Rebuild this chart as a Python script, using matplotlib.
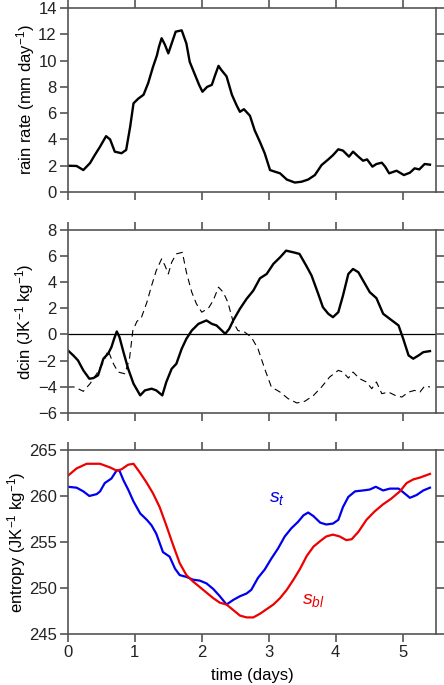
import numpy as np
import matplotlib
matplotlib.use('Agg')
import matplotlib.pyplot as plt

plt.rcParams['font.family'] = ['Liberation Sans', 'DejaVu Sans']
plt.rcParams['mathtext.fontset'] = 'custom'
plt.rcParams['mathtext.rm'] = 'Liberation Sans'
plt.rcParams['mathtext.it'] = 'Liberation Sans:italic'
plt.rcParams['font.size'] = 12

# rain rate (mm/day)
rain_t = [0.00, 0.13, 0.23, 0.33, 0.40, 0.48, 0.57, 0.63, 0.70, 0.80, 0.87, 0.93,
          0.98, 1.05, 1.13, 1.20, 1.27, 1.33, 1.36, 1.40, 1.45, 1.50, 1.55, 1.61,
          1.70, 1.77, 1.82, 1.90, 1.96, 2.01, 2.08, 2.15, 2.20, 2.25, 2.29, 2.37,
          2.45, 2.52, 2.57, 2.63, 2.72, 2.79, 2.87, 2.94, 3.02, 3.09, 3.17, 3.27,
          3.39, 3.49, 3.59, 3.69, 3.79, 3.89, 3.96, 4.04, 4.11, 4.20, 4.26, 4.34,
          4.41, 4.47, 4.55, 4.61, 4.69, 4.74, 4.80, 4.91, 5.02, 5.11, 5.18, 5.25,
          5.33, 5.41]
rain = [2.00, 1.98, 1.67, 2.20, 2.80, 3.45, 4.25, 4.00, 3.07, 2.95, 3.20, 4.97,
        6.75, 7.10, 7.40, 8.30, 9.50, 10.4, 11.05, 11.7, 11.2, 10.55, 11.3, 12.2,
        12.3, 11.3, 9.90, 8.90, 8.15, 7.63, 8.00, 8.15, 8.90, 9.60, 9.30, 8.80,
        7.40, 6.60, 6.10, 6.30, 5.80, 4.70, 3.80, 2.95, 1.67, 1.55, 1.42, 0.95,
        0.72, 0.78, 0.95, 1.29, 2.05, 2.48, 2.80, 3.25, 3.15, 2.69, 3.07, 2.69,
        2.38, 2.48, 1.93, 2.13, 2.23, 1.93, 1.42, 1.62, 1.29, 1.47, 1.80, 1.72,
        2.13, 2.08]

# dcin, solid curve
dcin_t = [0.00, 0.08, 0.15, 0.23, 0.32, 0.38, 0.45, 0.53, 0.60, 0.65, 0.69, 0.73,
          0.77, 0.83, 0.90, 0.98, 1.08, 1.15, 1.25, 1.32, 1.41, 1.47, 1.55, 1.62,
          1.70, 1.77, 1.85, 1.95, 2.07, 2.15, 2.22, 2.30, 2.35, 2.41, 2.47, 2.57,
          2.67, 2.77, 2.87, 2.97, 3.07, 3.17, 3.26, 3.37, 3.46, 3.56, 3.64, 3.74,
          3.81, 3.89, 3.96, 4.04, 4.11, 4.19, 4.26, 4.34, 4.41, 4.51, 4.61, 4.71,
          4.81, 4.94, 5.01, 5.09, 5.16, 5.24, 5.31, 5.41]
dcin = [-1.22, -1.60, -1.98, -2.74, -3.38, -3.33, -3.12, -1.85, -1.47, -0.97, -0.33, 0.23,
        -0.20, -1.35, -2.62, -3.76, -4.65, -4.27, -4.14, -4.27, -4.65, -3.63, -2.62, -2.24,
        -1.09, -0.33, 0.30, 0.81, 1.07, 0.81, 0.69, 0.30, 0.05, 0.43, 1.07, 1.96,
        2.72, 3.35, 4.29, 4.62, 5.39, 5.89, 6.40, 6.27, 6.15, 5.26, 4.50, 3.10,
        2.08, 1.58, 1.32, 1.70, 2.97, 4.62, 5.00, 4.75, 4.12, 3.23, 2.77, 1.58,
        1.19, 0.69, -0.33, -1.60, -1.85, -1.60, -1.35, -1.27]

# dcin, dashed curve
dash_t = [0.00, 0.10, 0.23, 0.33, 0.43, 0.53, 0.60, 0.68, 0.75, 0.85, 0.92, 0.97,
          1.03, 1.10, 1.18, 1.25, 1.32, 1.40, 1.45, 1.50, 1.55, 1.62, 1.71, 1.77,
          1.85, 1.92, 2.00, 2.10, 2.17, 2.25, 2.32, 2.39, 2.47, 2.54, 2.64, 2.74,
          2.84, 2.94, 3.04, 3.17, 3.29, 3.42, 3.54, 3.67, 3.79, 3.91, 4.04, 4.11,
          4.19, 4.26, 4.36, 4.46, 4.54, 4.61, 4.69, 4.79, 4.89, 4.99, 5.09, 5.18,
          5.26, 5.33, 5.41]
dash = [-4.01, -4.01, -4.34, -3.76, -3.00, -2.11, -1.22, -2.24, -2.87, -3.00, -1.85, 0.30,
        0.99, 1.32, 2.46, 3.73, 4.88, 5.77, 5.26, 4.62, 5.51, 6.15, 6.27, 4.75,
        3.23, 2.34, 1.70, 2.01, 2.59, 3.61, 3.23, 2.46, 0.94, 0.30, 0.18, -0.20,
        -1.09, -2.62, -4.01, -4.40, -4.90, -5.23, -5.10, -4.65, -4.01, -3.25, -2.74, -2.87,
        -3.33, -2.87, -3.38, -3.63, -4.14, -3.63, -4.52, -4.40, -4.65, -4.78, -4.40, -4.27,
        -4.40, -3.94, -4.01]

# entropy, s_t (blue)
st_t = [0.00, 0.13, 0.23, 0.32, 0.43, 0.48, 0.55, 0.65, 0.73, 0.77, 0.83, 0.90,
        0.98, 1.08, 1.18, 1.25, 1.32, 1.42, 1.52, 1.60, 1.67, 1.77, 1.87, 1.97,
        2.07, 2.17, 2.27, 2.37, 2.47, 2.57, 2.67, 2.74, 2.84, 2.94, 3.04, 3.14,
        3.24, 3.34, 3.44, 3.52, 3.59, 3.67, 3.77, 3.86, 3.96, 4.04, 4.11, 4.19,
        4.29, 4.41, 4.51, 4.60, 4.71, 4.81, 4.94, 5.01, 5.11, 5.21, 5.31, 5.41]
st = [261.0, 260.9, 260.5, 260.0, 260.2, 260.5, 261.4, 261.9, 262.8, 262.75, 261.7, 260.7,
      259.4, 258.1, 257.4, 256.8, 255.9, 253.9, 253.4, 252.1, 251.4, 251.2, 250.9, 250.8,
      250.5, 249.9, 249.1, 248.2, 248.7, 249.1, 249.4, 249.8, 251.1, 252.0, 253.2, 254.3,
      255.6, 256.5, 257.2, 257.9, 258.2, 257.8, 257.1, 256.9, 257.0, 257.4, 258.8, 259.9,
      260.5, 260.6, 260.7, 261.0, 260.6, 260.8, 260.8, 260.4, 259.8, 260.1, 260.6, 260.9]

# entropy, s_bl (red)
sbl_t = [0.00, 0.13, 0.28, 0.48, 0.63, 0.73, 0.80, 0.90, 0.98, 1.08, 1.18, 1.27,
         1.37, 1.47, 1.57, 1.67, 1.77, 1.87, 1.97, 2.07, 2.17, 2.27, 2.37, 2.47,
         2.57, 2.67, 2.77, 2.87, 2.97, 3.07, 3.17, 3.27, 3.37, 3.47, 3.57, 3.67,
         3.77, 3.86, 3.96, 4.06, 4.16, 4.24, 4.34, 4.46, 4.58, 4.71, 4.83, 4.96,
         5.06, 5.16, 5.26, 5.41]
sbl = [262.2, 263.0, 263.5, 263.5, 263.1, 262.75, 262.9, 263.4, 263.5, 262.5, 261.4, 260.3,
       258.8, 256.8, 254.7, 252.7, 251.4, 250.7, 250.1, 249.5, 248.9, 248.4, 248.2, 247.6,
       247.0, 246.8, 246.8, 247.2, 247.7, 248.2, 248.9, 249.8, 250.9, 252.1, 253.5, 254.5,
       255.1, 255.6, 255.8, 255.6, 255.2, 255.3, 256.1, 257.4, 258.3, 259.1, 259.7, 260.5,
       261.4, 261.8, 262.0, 262.4]

xticks = [0, 1, 2, 3, 4, 5]
spine_col = '#555555'

fig = plt.figure(figsize=(4.44, 6.85), dpi=100)
rects = [[0.153, 0.7197, 0.829, 0.2686],
         [0.153, 0.3970, 0.829, 0.2677],
         [0.153, 0.0745, 0.829, 0.2686]]
axes = [fig.add_axes(r) for r in rects]

for ax in axes:
    ax.set_xlim(0, 5.5)
    ax.set_xticks(xticks)
    ax.tick_params(direction='out', length=6, width=1.2, color=spine_col,
                   top=True, right=True, labelsize=12, labelcolor='#222222', pad=2)
    for s in ax.spines.values():
        s.set_color(spine_col)
        s.set_linewidth(1.2)

ax1, ax2, ax3 = axes

ax1.plot(rain_t, rain, color='black', lw=1.7)
ax1.set_ylim(0, 14)
ax1.set_yticks(range(0, 15, 2))
ax1.set_xticklabels([])
ax1.set_ylabel('rain rate (mm day$^{-1}$)', labelpad=1)

ax2.axhline(0, color='black', lw=0.9)
ax2.plot(dash_t, dash, color='black', lw=0.8, dashes=(6, 4))
ax2.plot(dcin_t, dcin, color='black', lw=1.7)
ax2.set_ylim(-6, 8)
ax2.set_yticks(range(-6, 9, 2))
ax2.set_xticklabels([])
ax2.set_ylabel('dcin (JK$^{-1}$ kg$^{-1}$)', labelpad=1)

ax3.plot(st_t, st, color='#0000ee', lw=1.6)
ax3.plot(sbl_t, sbl, color='#ee0000', lw=1.6)
ax3.set_ylim(245, 265)
ax3.set_yticks(range(245, 266, 5))
ax3.set_ylabel('entropy (JK$^{-1}$ kg$^{-1}$)', labelpad=1)
ax3.set_xlabel('time (days)', labelpad=6)
ax3.text(3.0, 259.3, '$s_t$', color='#0000ee', fontsize=14)
ax3.text(3.5, 248.3, '$s_{bl}$', color='#ee0000', fontsize=14)

fig.savefig('out.png', dpi=100)
